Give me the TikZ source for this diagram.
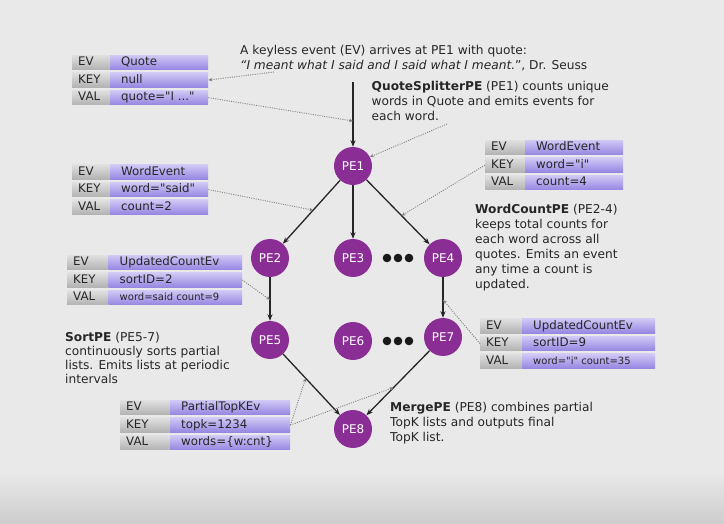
\documentclass[tikz,border=0pt]{standalone}
\usepackage{fontspec}
\setmainfont{DejaVu Sans}[Ligatures=TeXOff]
\usetikzlibrary{calc,arrows.meta}
\definecolor{bgc}{RGB}{233,233,233}
\definecolor{bgd}{RGB}{205,205,205}
\definecolor{pec}{RGB}{138,46,150}
\definecolor{txt}{RGB}{38,38,38}
\definecolor{dotc}{RGB}{128,128,128}
\definecolor{gtop}{RGB}{224,224,224}
\definecolor{gbot}{RGB}{178,178,178}
\definecolor{ptop}{RGB}{208,200,245}
\definecolor{pbot}{RGB}{150,134,226}
\newcommand\bodyfont{\fontsize{12.2}{15}\selectfont}
\newcommand\tabfont{\fontsize{11.8}{14}\selectfont}
\newcommand\smallval{\fontsize{10}{12}\selectfont}
\newcommand\cellrow[8]{%
  \node[gcell, minimum width=#4pt] (#1l) at (#2,#3) {};
  \node[pcell, minimum width=#5pt] (#1) at (#2+#4,#3) {};
  \node[celltxt] (#1lt) at ($(#1l.west)+(6,0)$) {#6};
  \node[celltxt,font=#8] (#1t) at ($(#1.west)+(11,0)$) {#7};
}
\newcommand\evtable[9]{%
  \cellrow{#1ev}{#2}{#3}{#4}{#5}{EV}{#6}{\tabfont}
  \cellrow{#1key}{#2}{#3+17.6}{#4}{#5}{KEY}{#7}{\tabfont}
  \cellrow{#1val}{#2}{#3+35.2}{#4}{#5}{VAL}{#8}{#9}
}
\begin{document}
\begin{tikzpicture}[x=1pt,y=-1pt,
  penode/.style={circle, fill=pec, minimum size=38pt, inner sep=0pt, text=white, font=\fontsize{12}{14}\selectfont},
  dotn/.style={circle, fill=black!90, minimum size=8.6pt, inner sep=0pt},
  flow/.style={draw=black!85, line width=1.3pt, -{Stealth[length=6.5pt,width=5pt]}},
  note/.style={draw=dotc, line width=0.9pt, dash pattern=on 1pt off 1.3pt, -{Stealth[length=4pt,width=3.5pt]}},
  gcell/.style={anchor=north west, inner sep=0pt, minimum height=14.5pt, top color=gtop, bottom color=gbot},
  pcell/.style={anchor=north west, inner sep=0pt, minimum height=14.5pt, top color=ptop, bottom color=pbot},
  celltxt/.style={anchor=west, inner sep=0pt, text=txt, font=\tabfont, text height=8.6pt, text depth=2.4pt},
  para/.style={anchor=north west, inner sep=0pt, align=left, text=txt, font=\bodyfont}]
\useasboundingbox (0,0) rectangle (724,524);
\fill[bgc] (0,0) rectangle (724,524);
\shade[top color=bgc, bottom color=bgd] (0,472) rectangle (724,524);

% texts
\node[para] (intro) at (240,45.3) {A keyless event (EV) arrives at PE1 with quote:\\\textit{“I meant what I said and I said what I meant.}”, Dr. Seuss};
\node[para] (qsplit) at (371.5,80.7) {\textbf{QuoteSplitterPE} (PE1) counts unique\\words in Quote and emits events for\\each word.};
\node[para] (wcount) at (475,204.2) {\textbf{WordCountPE} (PE2-4)\\keeps total counts for\\each word across all\\quotes. Emits an event\\any time a count is\\updated.};
\node[para, font=\fontsize{12.2}{14}\selectfont] (sortpe) at (65,332.4) {\textbf{SortPE} (PE5-7)\\continuously sorts partial\\lists. Emits lists at periodic\\intervals};
\node[para] (mergepe) at (390,402.5) {\textbf{MergePE} (PE8) combines partial\\TopK lists and outputs final\\TopK list.};

% tables
\evtable{ta}{72}{55}{38}{98}{Quote}{null}{quote="I ..."}{\tabfont}
\evtable{tb}{72}{164.5}{38}{98}{WordEvent}{word="said"}{count=2}{\tabfont}
\evtable{tc}{485}{140}{40}{98}{WordEvent}{word="i"}{count=4}{\tabfont}
\evtable{td}{67}{255}{41.5}{133.5}{UpdatedCountEv}{sortID=2}{word=said count=9}{\smallval}
\evtable{te}{480}{318.5}{42}{133}{UpdatedCountEv}{sortID=9}{word="i" count=35}{\smallval}
\evtable{tf}{120}{400}{50}{120}{PartialTopKEv}{topk=1234}{words=\{w:cnt\}}{\tabfont}

% PE nodes
\node[penode] (pe1) at (353,166) {PE1};
\node[penode] (pe2) at (270,258) {PE2};
\node[penode] (pe3) at (353,258) {PE3};
\node[penode] (pe4) at (443,258) {PE4};
\node[penode] (pe5) at (270,340) {PE5};
\node[penode] (pe6) at (353,341) {PE6};
\node[penode] (pe7) at (443,337) {PE7};
\node[penode] (pe8) at (353,429) {PE8};
\node[dotn] (da1) at (387,258) {};
\node[dotn] (da2) at (398,258) {};
\node[dotn] (da3) at (409,258) {};
\node[dotn] (db1) at (387,341) {};
\node[dotn] (db2) at (398,341) {};
\node[dotn] (db3) at (409,341) {};

% flow edges
\coordinate (qin) at (353,82);
\draw[flow] (qin) -- (pe1);
\draw[flow] (pe1) -- (pe2);
\draw[flow] (pe1) -- (pe3);
\draw[flow] (pe1) -- (pe4);
\draw[flow] (pe2) -- (pe5);
\draw[flow] (pe4) -- (pe7);
\draw[flow] (pe5) -- (pe8);
\draw[flow] (pe7) -- (pe8);

% annotation connectors
\coordinate (cin) at (353,121);
\coordinate (cintro) at (274,72);
\coordinate (cqs) at (447,124);
\coordinate (e12) at ($(pe1)!0.48!(pe2)$);
\coordinate (e14) at ($(pe1)!0.54!(pe4)$);
\coordinate (e25) at ($(pe2)!0.51!(pe5)$);
\coordinate (e47) at ($(pe4)!0.53!(pe7)$);
\coordinate (e58) at ($(pe5)!0.43!(pe8)$);
\coordinate (e78) at ($(pe7)!0.55!(pe8)$);
\draw[note] (cintro) -- (takey.east);
\draw[note] (taval.east) -- (cin);
\draw[note] (cqs) -- (pe1.28);
\draw[note] (tbkey.east) -- (e12);
\draw[note] (tckeyl.west) -- (e14);
\draw[note] (tdkey.east) -- (e25);
\draw[note] (tekeyl.west) -- (e47);
\draw[note] (tfkey.east) -- (e58);
\draw[note] (tfkey.east) -- (e78);
\end{tikzpicture}
\end{document}
